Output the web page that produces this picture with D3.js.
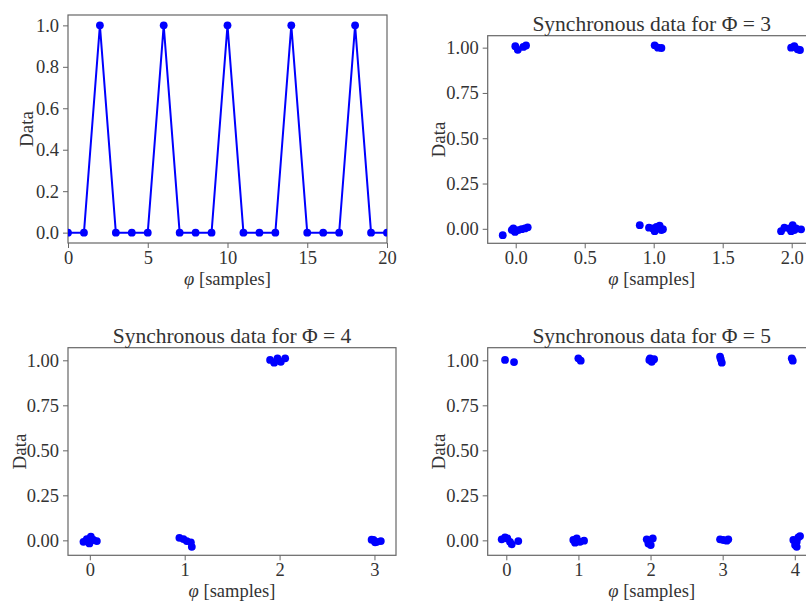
<!DOCTYPE html>
<html>
<head>
	<title>Synchronous data</title>
	<style type="text/css">
		body {
			margin: 0;
			background: #fff;
		}
		svg text {
			font-family: "Liberation Serif", "DejaVu Serif", serif;
			fill: #333;
		}
		.domain, .tick line {
			stroke: #666;
		}
	</style>
</head>
<body>
	<div id="chart"></div>
	<script src="https://d3js.org/d3.v7.min.js"></script>
	<script type="text/javascript">
		var width = 806,
			height = 601;

		// top-left: the raw sequence
		var seqX = [0, 1, 2, 3, 4, 5, 6, 7, 8, 9, 10, 11, 12, 13, 14, 15, 16, 17, 18, 19, 20];
		var seqY = [0, 0, 1, 0, 0, 0, 1, 0, 0, 0, 1, 0, 0, 0, 1, 0, 0, 0, 1, 0, 0];

		// Phi = 3 (jittered points)
		var phi3X = [-0.003, 0.015, 0.055, 0.075, 1.007, 1.031, 1.056, 1.996, 2.019, 2.043, 2.06,
			-0.094, -0.029, -0.017, -0.005, 0.019, 0.043, 0.067, 0.087,
			0.899, 0.966, 0.995, 1.02, 1.043, 1.056, 1.007, 1.067,
			1.923, 1.947, 1.983, 2.007, 2.019, 1.996, 2.032, 2.068];
		var phi3Y = [1.008, 0.988, 1.004, 1.012, 1.013, 1.0, 0.998, 1.0, 1.009, 0.991, 0.987,
			-0.035, -0.007, 0.002, -0.017, -0.007, -0.002, 0.002, 0.008,
			0.02, 0.006, 0.002, 0.011, 0.017, -0.007, -0.013, -0.002,
			-0.013, 0.006, 0.002, 0.02, -0.007, -0.013, 0.002, -0.003];

		// Phi = 4
		var phi4X = [1.90, 1.943, 1.978, 2.013, 2.059,
			-0.067, -0.032, 0.011, 0.038, 0.074, -0.004,
			0.944, 0.987, 1.022, 1.065, 1.075,
			2.97, 2.99, 3.025, 3.067, 3.007];
		var phi4Y = [1.002, 0.987, 1.011, 0.992, 1.011,
			-0.008, 0.007, 0.02, 0.002, -0.004, -0.017,
			0.014, 0.007, -0.004, -0.011, -0.036,
			0.004, 0.002, -0.008, -0.004, -0.011];

		// Phi = 5
		var phi5X = [-0.018, 0.107, 0.999, 1.032, 1.993, 2.049, 2.016, 1.983, 2.964, 2.974, 2.988, 3.958, 3.972,
			-0.064, -0.018, 0.014, 0.051, 0.075, 0.166,
			0.929, 0.953, 0.977, 1.022, 1.078,
			1.947, 1.97, 2.003, 2.031, 1.984,
			2.964, 3.01, 3.056, 3.078,
			3.98, 4.004, 4.027, 4.049, 4.073, 4.027];
		var phi5Y = [1.002, 0.99, 1.011, 0.998, 1.011, 1.006, 0.992, 1.002, 1.02, 1.006, 0.987, 1.011, 0.998,
			0.006, 0.017, 0.011, -0.008, -0.022, -0.004,
			0.002, -0.013, 0.011, -0.008, -0.002,
			0.006, -0.017, -0.026, 0.011, -0.002,
			0.006, 0.002, -0.002, 0.006,
			0.002, -0.026, -0.008, 0.017, 0.024, -0.036];

		var ticksX1 = [0, 5, 10, 15, 20],
			ticksY1 = [0, 0.2, 0.4, 0.6, 0.8, 1.0],
			ticksX3 = [0, 0.5, 1, 1.5, 2],
			ticksX4 = [0, 1, 2, 3],
			ticksX5 = [0, 1, 2, 3, 4],
			ticksYsync = [0, 0.25, 0.5, 0.75, 1.0];

		var svg = d3.select('#chart')
			.append('svg')
			.attr('width', width)
			.attr('height', height);

		function panel(opt) {
			var x = d3.scaleLinear().domain(opt.xDomain).range([opt.left, opt.right]),
				y = d3.scaleLinear().domain(opt.yDomain).range([opt.bottom, opt.top]);

			var g = svg.append('g');

			// frame
			g.append('rect')
				.attr('x', opt.left)
				.attr('y', opt.top)
				.attr('width', opt.right - opt.left)
				.attr('height', opt.bottom - opt.top)
				.attr('fill', 'none')
				.attr('stroke', '#666')
				.attr('stroke-width', 1.2);

			var xAxis = g.append('g')
				.attr('transform', 'translate(0,' + opt.bottom + ')')
				.call(d3.axisBottom(x).tickValues(opt.xTicks).tickFormat(d3.format(opt.xFmt)).tickSize(5).tickPadding(3));
			var yAxis = g.append('g')
				.attr('transform', 'translate(' + opt.left + ',0)')
				.call(d3.axisLeft(y).tickValues(opt.yTicks).tickFormat(d3.format(opt.yFmt)).tickSize(5).tickPadding(4));
			[xAxis, yAxis].forEach(function(a) {
				a.select('.domain').remove();
				a.selectAll('.tick line').attr('stroke-width', 1);
				a.selectAll('.tick text').style('font-size', '18.5px').attr('fill', '#333');
			});

			var clipId = 'clip' + opt.id;
			g.append('clipPath').attr('id', clipId)
				.append('rect')
				.attr('x', opt.left).attr('y', opt.top)
				.attr('width', opt.right - opt.left).attr('height', opt.bottom - opt.top);

			var plot = g.append('g').attr('clip-path', 'url(#' + clipId + ')');
			var pts = opt.xs.map(function(d, i) { return [d, opt.ys[i]]; });

			if (opt.line) {
				plot.append('path')
					.datum(pts)
					.attr('fill', 'none')
					.attr('stroke', '#0000ff')
					.attr('stroke-width', 2)
					.attr('d', d3.line().x(function(d) { return x(d[0]); }).y(function(d) { return y(d[1]); }));
			}

			plot.selectAll('circle')
				.data(pts)
				.enter()
				.append('circle')
				.attr('cx', function(d) { return x(d[0]); })
				.attr('cy', function(d) { return y(d[1]); })
				.attr('r', 3.9)
				.attr('fill', '#0000ff');

			// labels
			g.append('text')
				.attr('x', (opt.left + opt.right) / 2)
				.attr('y', opt.bottom + 42)
				.attr('text-anchor', 'middle')
				.style('font-size', '18.5px')
				.html('<tspan font-style="italic">φ</tspan> [samples]');

			g.append('text')
				.attr('transform', 'translate(' + opt.yLabelX + ',' + ((opt.top + opt.bottom) / 2) + ') rotate(-90)')
				.attr('text-anchor', 'middle')
				.style('font-size', '19px')
				.text('Data');

			if (opt.title) {
				g.append('text')
					.attr('x', (opt.left + opt.right) / 2)
					.attr('y', opt.top - 5)
					.attr('text-anchor', 'middle')
					.style('font-size', '21.5px')
					.text(opt.title);
			}
		}

		panel({
			id: 1, left: 68, right: 387, top: 15, bottom: 243,
			xDomain: [0, 20], yDomain: [-0.05, 1.05],
			xTicks: ticksX1, yTicks: ticksY1, xFmt: 'd', yFmt: '.1f',
			xs: seqX, ys: seqY, line: true, yLabelX: 33
		});

		panel({
			id: 2, left: 487.7, right: 815.7, top: 35.7, bottom: 243.3,
			xDomain: [-0.203, 2.174], yDomain: [-0.08, 1.066],
			xTicks: ticksX3, yTicks: ticksYsync, xFmt: '.1f', yFmt: '.2f',
			xs: phi3X, ys: phi3Y, yLabelX: 445, title: 'Synchronous data for Φ = 3'
		});

		panel({
			id: 3, left: 68, right: 396, top: 347.7, bottom: 555.3,
			xDomain: [-0.23, 3.227], yDomain: [-0.083, 1.07],
			xTicks: ticksX4, yTicks: ticksYsync, xFmt: 'd', yFmt: '.2f',
			xs: phi4X, ys: phi4Y, yLabelX: 26, title: 'Synchronous data for Φ = 4'
		});

		panel({
			id: 4, left: 487.7, right: 815.7, top: 347.7, bottom: 555.3,
			xDomain: [-0.258, 4.29], yDomain: [-0.083, 1.07],
			xTicks: ticksX5, yTicks: ticksYsync, xFmt: 'd', yFmt: '.2f',
			xs: phi5X, ys: phi5Y, yLabelX: 445, title: 'Synchronous data for Φ = 5'
		});
	</script>
</body>
</html>
